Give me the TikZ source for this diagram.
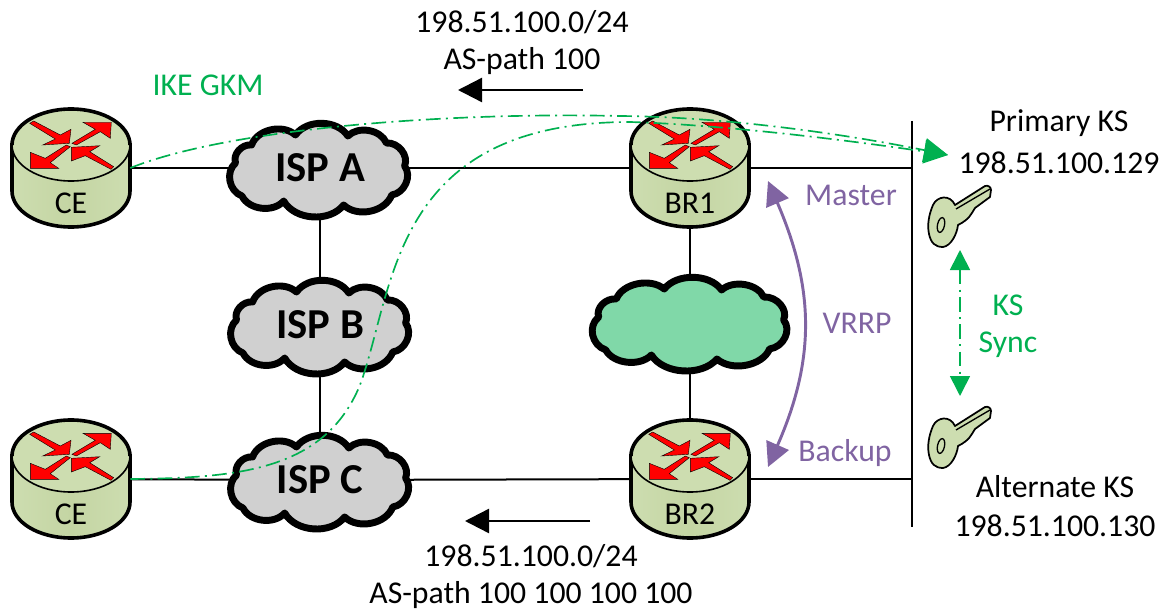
\documentclass[tikz,border=0pt]{standalone}
\usepackage{fontspec}
\setmainfont{Carlito}
\usetikzlibrary{arrows.meta,backgrounds}
\definecolor{routergreen}{RGB}{205,221,176}
\definecolor{routerdark}{RGB}{196,213,163}
\definecolor{cloudgray}{RGB}{208,208,208}
\definecolor{cloudgreen}{RGB}{128,216,168}
\definecolor{ikegreen}{RGB}{0,176,80}
\definecolor{vrrppurple}{RGB}{128,100,162}
\tikzset{
	txt/.style={font=\fontsize{23.8}{27}\selectfont,inner sep=0pt},
	routerbox/.style={rectangle,minimum width=88.5pt,minimum height=88.5pt,inner sep=0pt},
	cloudbox/.style={rectangle,minimum width=128pt,minimum height=62pt,inner sep=0pt,font=\fontsize{32}{36}\selectfont\bfseries},
	wire/.style={line width=1.5pt,black},
	ikeflow/.style={line width=1.25pt,ikegreen,dash pattern=on 11pt off 4pt on 1.5pt off 4pt},
	pics/routerdraw/.style={code={
		\begin{scope}[shift={(0,-23)}]
			\draw[line width=2.7pt,left color=routergreen,right color=routergreen,middle color=routerdark] (-59,0) -- (-59,46) arc (180:0:59 and 36) -- (59,0) -- cycle;
			\draw[line width=1.2pt,fill=routergreen] (0,0) ellipse (59 and 36);
			\draw[line width=2.7pt] (-59,0) arc (180:360:59 and 36);
			\draw[fill=red,line width=0.3pt] (-41.3,-21.7) -- (-37.3,-24) -- (-10.7,-10) -- (0,-15.7) -- (-1.7,-1.7) -- (-28.3,0) -- (-15.7,-6) -- cycle;
			\draw[fill=red,line width=0.3pt] (1,-1.7) -- (24.3,-15.7) -- (12,-22.7) -- (40.3,-22.7) -- (39.3,-6.7) -- (29.3,-13.3) -- (5.3,0) -- cycle;
			\draw[fill=red,line width=0.3pt] (42.7,21.7) -- (40,24.3) -- (14.3,10.7) -- (0.3,16) -- (0.3,2.3) -- (28.7,0.7) -- (18.7,6.7) -- cycle;
			\draw[fill=red,line width=0.3pt] (-0.7,1.7) -- (-4.7,0) -- (-25.7,13.3) -- (-40.7,7.3) -- (-40.7,23.3) -- (-12.3,23.3) -- (-20.7,17.7) -- cycle;
		\end{scope}
		\node[txt] (-lab) at (0,35) {#1};
	}},
	pics/clouddraw/.style={code={
		\draw[line width=5.2pt,line join=round,fill=#1,bend left=58] (-78,-5) to (-63,-23) to (-22,-33) to (27,-32) to (63,-25) to (80,-2) to (68,27) to (23,37) to (-33,33) to (-72,28) to (-78,-5) -- cycle;
	}},
	pics/keydraw/.style={code={
		\draw[line width=1.3pt,fill=routergreen,line join=round] (-24,-11) .. controls (-20,-20) and (-7,-22) .. (-2,-11) -- (28,-30) .. controls (31,-31) and (34,-29) .. (34,-26) -- (33,-19) -- (18,-8) .. controls (14,-2) and (13,3) .. (1,9) .. controls (0,18) and (-6,30) .. (-14,31) .. controls (-22,31) and (-26,27) .. (-28,18) .. controls (-30,9) and (-28,-2) .. (-24,-11) -- cycle;
		\draw[line width=1pt] (-1,-7) -- (33,-27);
		\draw[line width=1pt,rotate around={-12:(-16,9)}] (-16,9) ellipse (3.5 and 7.5);
	}}
}
\begin{document}
\begin{tikzpicture}[x=0.75pt,y=-0.75pt,>={Triangle[length=18pt,width=18pt]}]
	\useasboundingbox (0,0) rectangle (1168,610);
	\coordinate (bus_top) at (912,121);
	\coordinate (bus_bot) at (912,527);
	\coordinate (ks_tip) at (948,155);
	\coordinate (top_from) at (583,90);
	\coordinate (top_to) at (458,90);
	\coordinate (bot_from) at (590,521);
	\coordinate (bot_to) at (465,521);
	\coordinate (sync_a) at (960,250);
	\coordinate (sync_b) at (960,396);
	\coordinate (vrrp_a) at (768,181);
	\coordinate (vrrp_b) at (768,467);

	\pic[xscale=1.07] at (319,168) {clouddraw=cloudgray};
	\pic[xscale=1.07] at (320,325) {clouddraw=cloudgray};
	\pic[xscale=1.07] at (320,480) {clouddraw=cloudgray};
	\pic[xscale=1.17] at (690,322) {clouddraw=cloudgreen};
	\node[routerbox] (ce1) at (71,168) {};
	\node[routerbox] (ce2) at (71,479) {};
	\node[routerbox] (br1) at (690,168) {};
	\node[routerbox] (br2) at (690,479) {};
	\node[cloudbox] (ispa) at (320,168) {ISP A};
	\node[cloudbox] (ispb) at (320,325) {ISP B};
	\node[cloudbox] (ispc) at (320,480) {ISP C};
	\node[cloudbox,minimum width=146pt] (core) at (690,322) {};

	\begin{scope}[on background layer]
		\draw[wire] (ce1) -- (ispa);
		\draw[wire] (ispa) -- (br1);
		\draw[wire] (ce2) -- (ispc);
		\draw[wire] (ispc) -- (br2);
		\draw[wire] (ispa) -- (ispb);
		\draw[wire] (ispb) -- (ispc);
		\draw[wire] (br1) -- (core);
		\draw[wire] (core) -- (br2);
		\draw[wire] (br1) -- (br1 -| bus_top);
		\draw[wire] (br2) -- (br2 -| bus_top);
		\draw[wire] (bus_top) -- (bus_bot);
	\end{scope}

	\pic (ce1) at (ce1) {routerdraw=CE};
	\pic (ce2) at (ce2) {routerdraw=CE};
	\pic (br1) at (br1) {routerdraw=BR1};
	\pic (br2) at (br2) {routerdraw=BR2};
	\pic at (957,216) {keydraw};
	\pic at (957,437) {keydraw};

	\draw[ikeflow,->] (ce1.east) .. controls (230,128) and (450,112) .. (620,116) .. controls (730,117) and (850,135) .. (ks_tip);
	\draw[ikeflow,->] (ce2.east) .. controls (240,478) and (325,470) .. (360,385) .. controls (395,290) and (390,122) .. (630,122) .. controls (730,125) and (860,142) .. (ks_tip);
	\draw[ikeflow,{Triangle[length=15pt,width=15pt]}-{Triangle[length=15pt,width=15pt]}] (sync_a) -- (sync_b);
	\draw[line width=1.8pt,->] (top_from) -- (top_to);
	\draw[line width=1.8pt,->] (bot_from) -- (bot_to);
	\draw[line width=2.2pt,vrrppurple,<->] (vrrp_a) .. controls (815,290) and (815,360) .. (vrrp_b);

	\node[txt] (top_net) at (522,22) {198.51.100.0/24};
	\node[txt] (top_path) at (522,61) {AS-path 100};
	\node[txt] (bot_net) at (531,556) {198.51.100.0/24};
	\node[txt] (bot_path) at (531,595) {AS-path 100 100 100 100};
	\node[txt,text=ikegreen] (ike) at (208,85) {IKE GKM};
	\node[txt] (prim_name) at (1059,123) {Primary KS};
	\node[txt] (prim_addr) at (1059,163) {198.51.100.129};
	\node[txt] (alt_name) at (1055,487) {Alternate KS};
	\node[txt] (alt_addr) at (1055,526) {198.51.100.130};
	\node[txt,text=vrrppurple] (master) at (851,195) {Master};
	\node[txt,text=vrrppurple] (vrrp) at (857,323) {VRRP};
	\node[txt,text=vrrppurple] (backup) at (845,453) {Backup};
	\node[txt,text=ikegreen] (sync1) at (1008,305) {KS};
	\node[txt,text=ikegreen] (sync2) at (1008,345) {Sync};
\end{tikzpicture}
\end{document}
